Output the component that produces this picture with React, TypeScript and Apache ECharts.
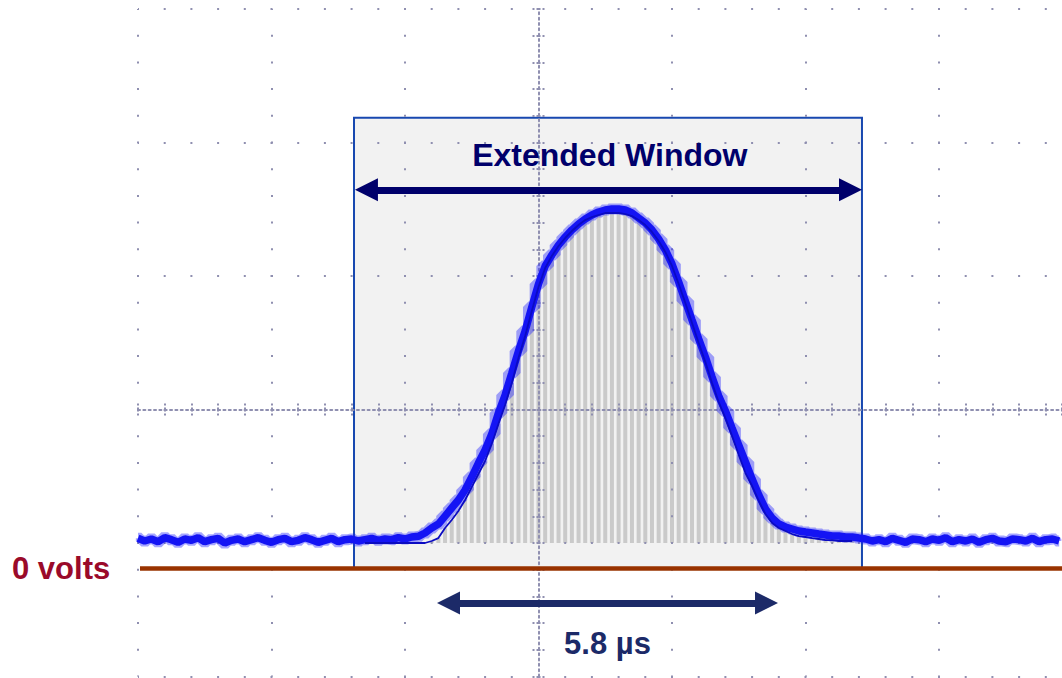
import React, { useEffect, useRef } from "react";
import * as echarts from "echarts";

// ---- Data (x and y in oscilloscope divisions) ----
// Noisy scope trace, sampled every 0.05 div starting at x = -3.0
const TRACE_START = -3.0;
const TRACE_STEP = 0.05;
const TRACE_PRE = [
  0.035, 0.015, 0.03, 0.01, 0.04, 0.025, 0.005, 0.03, 0.02, 0.04, 0.01, 0.025, 0.035, 0.0, 0.02, 0.03,
  0.01, 0.025, 0.04, 0.02, 0.005, 0.025, 0.035, 0.01, 0.02, 0.04, 0.025, 0.005, 0.02, 0.035, 0.01, 0.025,
];
const TRACE_PULSE = [
  0.03, 0.015, 0.025, 0.035, 0.02, 0.03, 0.025, 0.04, 0.03, 0.045,
  0.05, 0.075, 0.112, 0.142, 0.202, 0.262, 0.322, 0.397, 0.494, 0.599,
  0.697, 0.816, 0.974, 1.109, 1.273, 1.438, 1.588, 1.768, 1.94, 2.075,
  2.157, 2.232, 2.292, 2.345, 2.39, 2.427, 2.457, 2.479, 2.494, 2.502,
  2.502, 2.494, 2.472, 2.434, 2.397, 2.345, 2.277, 2.195, 2.09, 1.955,
  1.813, 1.67, 1.528, 1.393, 1.243, 1.101, 0.989, 0.861, 0.734, 0.607,
  0.479, 0.36, 0.255, 0.187, 0.142, 0.12, 0.105, 0.09, 0.082, 0.075,
  0.067, 0.06, 0.052, 0.052, 0.045, 0.045, 0.037,
];
const TRACE_POST = [
  0.03, 0.015, 0.025, 0.01, 0.035, 0.02, 0.005, 0.03, 0.025, 0.01, 0.03, 0.02, 0.04, 0.01, 0.025, 0.015,
  0.03, 0.005, 0.025, 0.035, 0.015, 0.01, 0.03, 0.025, 0.015, 0.035, 0.01, 0.025, 0.03, 0.015,
];

// Fitted pulse (also drawn as the sampling bars), every 0.05 div from x = -1.30
const FIT_START = -1.3;
const FIT_STEP = 0.05;
const FIT_VALUES = [
  0, 0, 0, 0, 0, 0, 0, 0, 0, 0,
  0.015, 0.037, 0.112, 0.172, 0.24, 0.322, 0.419, 0.517, 0.614, 0.742,
  0.891, 1.034, 1.199, 1.386, 1.551, 1.738, 1.918, 2.06, 2.15, 2.225,
  2.285, 2.337, 2.382, 2.419, 2.442, 2.457, 2.472, 2.472, 2.472, 2.464,
  2.449, 2.419, 2.382, 2.33, 2.262, 2.18, 2.075, 1.94, 1.798, 1.648,
  1.498, 1.356, 1.199, 1.056, 0.936, 0.801, 0.659, 0.524, 0.427, 0.315,
  0.217, 0.15, 0.112, 0.09, 0.067, 0.052, 0.045, 0.037, 0.03, 0.022,
  0.022, 0.015, 0.015, 0.015,
];

// Screen extent (divisions): visible part of the graticule
const X_MIN = -3;
const X_MAX = 3.9213;
const Y_MIN = -2;
const Y_MAX = 3;

// Annotations (divisions)
const WINDOW_X = [-1.382, 2.423];
const WINDOW_TOP = 3.186;
const ZERO_VOLTS = -0.19;
const ZERO_LINE_X = [-2.985, X_MAX];
const WINDOW_ARROW = { x: [-1.289, 2.337], y: 2.646 };
const WIDTH_ARROW = { x: [-0.674, 1.708], y: -0.449 };

const LABEL_WINDOW = "Extended Window";
const LABEL_WIDTH = "5.8 µs";
const LABEL_ZERO = "0 volts";

const DOT = "#8f8fb0";
const FONT = '"Liberation Sans", Arial, Helvetica, sans-serif';

function tracePairs() {
  const all = [...TRACE_PRE, ...TRACE_PULSE, ...TRACE_POST];
  return all.map((v, i) => [+(TRACE_START + i * TRACE_STEP).toFixed(3), v]);
}
function fitPairs() {
  return FIT_VALUES.map((v, i) => [+(FIT_START + i * FIT_STEP).toFixed(3), v]);
}

const GRID = { left: 138, top: 9, width: 924, height: 667.5, containLabel: false, outerBoundsMode: "none" };

function tickStyles() {
  return {
    axisTick: { show: true, length: 8, lineStyle: { color: DOT, width: 2, type: [2, 2] } },
    minorTick: { show: true, splitNumber: 5, length: 8, lineStyle: { color: DOT, width: 2, type: [2, 2] } },
    minorSplitLine: { show: false },
    axisLabel: { show: false },
  };
}

function graticuleX(position: "bottom" | "top", main: boolean) {
  return {
    gridIndex: 0,
    type: "value",
    min: X_MIN,
    max: X_MAX,
    interval: 1,
    position,
    z: 3,
    silent: true,
    axisLine: {
      show: main,
      onZero: true,
      onZeroAxisIndex: main ? 0 : 1,
      lineStyle: { color: DOT, width: 2, type: [2, 3.34] },
    },
    splitLine: {
      show: main,
      showMinLine: true,
      showMaxLine: false,
      lineStyle: { color: DOT, width: 2, type: [2, 24.7], dashOffset: 1 },
    },
    ...tickStyles(),
  };
}
function graticuleY(position: "left" | "right", main: boolean) {
  return {
    gridIndex: 0,
    type: "value",
    min: Y_MIN,
    max: Y_MAX,
    interval: 1,
    position,
    z: 3,
    silent: true,
    axisLine: {
      show: main,
      onZero: true,
      onZeroAxisIndex: main ? 0 : 1,
      lineStyle: { color: DOT, width: 2, type: [2, 3.34] },
    },
    splitLine: {
      show: main,
      showMinLine: true,
      showMaxLine: true,
      lineStyle: { color: DOT, width: 2, type: [2, 24.7], dashOffset: 1 },
    },
    ...tickStyles(),
  };
}

export default function App() {
  const ref = useRef<HTMLDivElement>(null);

  useEffect(() => {
    if (!ref.current) return;
    const chart = echarts.init(ref.current, undefined, { renderer: "svg" });

    const arrowLine = (a: { x: number[]; y: number }, color: string, width: number) => [
      { coord: [a.x[0], a.y], lineStyle: { color, width, type: "solid" } },
      { coord: [a.x[1], a.y] },
    ];

    const option: any = {
      animation: false,
      grid: [{ ...GRID }, { ...GRID }],
      xAxis: [
        graticuleX("bottom", true),
        graticuleX("top", false),
        { gridIndex: 1, type: "value", min: X_MIN, max: X_MAX, show: false },
      ],
      yAxis: [
        graticuleY("left", true),
        graticuleY("right", false),
        { gridIndex: 1, type: "value", min: Y_MIN + 1, max: Y_MAX + 1, show: false },
      ],
      series: [
        {
          name: "samples",
          type: "bar",
          xAxisIndex: 2,
          yAxisIndex: 2,
          data: fitPairs(),
          barWidth: 4,
          itemStyle: { color: "#cacaca" },
          silent: true,
          z: 2,
          markArea: {
            silent: true,
            z: 1,
            label: { show: false },
            itemStyle: { color: "#f2f2f2", borderColor: "#1848b0", borderWidth: 2 },
            data: [[{ coord: [WINDOW_X[0], WINDOW_TOP] }, { coord: [WINDOW_X[1], ZERO_VOLTS] }]],
          },
        },
        {
          name: "trace-halo",
          type: "line",
          xAxisIndex: 2,
          yAxisIndex: 2,
          data: tracePairs(),
          symbol: "none",
          step: "middle",
          silent: true,
          lineStyle: { color: "rgba(30,30,255,0.4)", width: 11 },
          z: 4,
        },
        {
          name: "trace",
          type: "line",
          xAxisIndex: 2,
          yAxisIndex: 2,
          data: tracePairs(),
          symbol: "none",
          silent: true,
          lineStyle: { color: "#1414f4", width: 7.5 },
          z: 4,
        },
        {
          name: "fit",
          type: "line",
          xAxisIndex: 2,
          yAxisIndex: 2,
          data: fitPairs(),
          symbol: "none",
          silent: true,
          lineStyle: { color: "#0b0bc2", width: 1.8 },
          z: 5,
          markLine: {
            silent: true,
            z: 6,
            label: { show: false },
            emphasis: { disabled: true },
            symbol: ["none", "none"],
            data: [
              [
                { coord: [ZERO_LINE_X[0], ZERO_VOLTS], lineStyle: { color: "#993300", width: 4.5, type: "solid" } },
                { coord: [ZERO_LINE_X[1], ZERO_VOLTS] },
              ],
            ],
          },
        },
        {
          name: "arrows",
          type: "line",
          xAxisIndex: 2,
          yAxisIndex: 2,
          data: [],
          symbol: "none",
          silent: true,
          z: 6,
          markLine: {
            silent: true,
            z: 7,
            label: { show: false },
            emphasis: { disabled: true },
            symbol: ["triangle", "triangle"],
            symbolSize: [23, 23],
            data: [
              arrowLine(WINDOW_ARROW, "#00006b", 7),
              arrowLine(WIDTH_ARROW, "#1c2a68", 7),
            ],
          },
        },
      ],
      graphic: [
        {
          type: "text",
          x: 609.8,
          y: 154.5,
          z: 20,
          silent: true,
          style: { text: LABEL_WINDOW, font: `bold 32px ${FONT}`, fill: "#00006b", align: "center", verticalAlign: "middle" },
        },
        {
          type: "text",
          x: 607.5,
          y: 643.8,
          z: 20,
          silent: true,
          style: { text: LABEL_WIDTH, font: `bold 31px ${FONT}`, fill: "#1c2a68", align: "center", verticalAlign: "middle" },
        },
        {
          type: "text",
          x: 12,
          y: 568.5,
          z: 20,
          silent: true,
          style: { text: LABEL_ZERO, font: `bold 31px ${FONT}`, fill: "#9a0a2a", align: "left", verticalAlign: "middle" },
        },
      ],
    };

    chart.setOption(option);
    return () => chart.dispose();
  }, []);

  return (
    <div
      ref={ref}
      style={{ position: "absolute", left: 0, top: 0, width: 1062, height: 678, background: "#ffffff" }}
    />
  );
}
